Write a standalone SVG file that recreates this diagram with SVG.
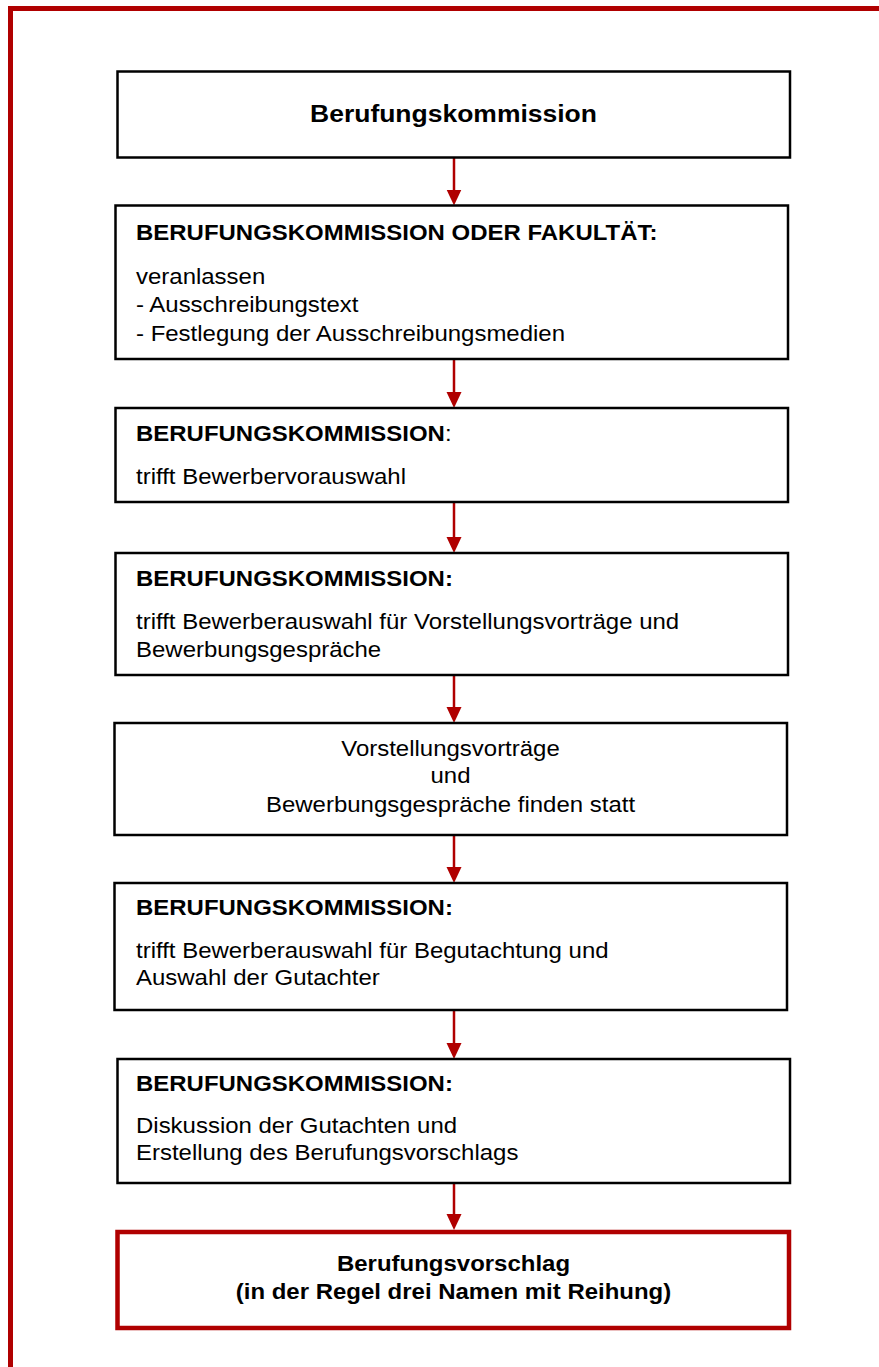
<svg xmlns="http://www.w3.org/2000/svg" width="879" height="1367" viewBox="0 0 879 1367">
<style>
.box{fill:#fff;stroke:#000;stroke-width:2.5}
.rbox{fill:#fff;stroke:#b00000;stroke-width:4.5}
.t{font-family:"Liberation Sans",Arial,sans-serif;font-size:22px;fill:#000}
.b{font-weight:bold}
.c{text-anchor:middle}
.con{stroke:#b00000;stroke-width:2.5;fill:none;marker-end:url(#ah)}
</style>
<defs>
<marker id="ah" markerUnits="userSpaceOnUse" markerWidth="16" markerHeight="16" refX="6" refY="7.5" orient="auto">
<path d="M0,0 L16,7.5 L0,15 Z" fill="#b00000"/>
</marker>
</defs>
<rect width="879" height="1367" fill="#fff"/>
<path id="frame" d="M10.5,1367 V8.5 H879" fill="none" stroke="#b00000" stroke-width="5"/>

<g id="connectors">
<line class="con" x1="454" y1="157" x2="454" y2="195.5"/>
<line class="con" x1="454" y1="359" x2="454" y2="398"/>
<line class="con" x1="454" y1="502" x2="454" y2="543"/>
<line class="con" x1="454" y1="675" x2="454" y2="713"/>
<line class="con" x1="454" y1="835" x2="454" y2="873"/>
<line class="con" x1="454" y1="1010" x2="454" y2="1049"/>
<line class="con" x1="454" y1="1183" x2="454" y2="1220"/>
</g>

<g id="n1">
<rect class="box" x="117.5" y="71.5" width="672.5" height="86"/>
<text class="t b c" style="font-size:24.3px" transform="translate(453.5,0) scale(1.09,1)" y="122">Berufungskommission</text>
</g>

<g id="n2">
<rect class="box" x="115.5" y="205.5" width="672.5" height="153.5"/>
<text class="t b" transform="translate(136,0) scale(1.09,1)" y="240">BERUFUNGSKOMMISSION ODER FAKULTÄT:</text>
<text class="t" transform="translate(136,0) scale(1.09,1)" y="284">veranlassen</text>
<text class="t" transform="translate(136,0) scale(1.09,1)" y="312.5">- Ausschreibungstext</text>
<text class="t" transform="translate(136,0) scale(1.09,1)" y="341">- Festlegung der Ausschreibungsmedien</text>
</g>

<g id="n3">
<rect class="box" x="115.5" y="408" width="672.5" height="94"/>
<text class="t" transform="translate(136,0) scale(1.09,1)" y="441"><tspan class="b">BERUFUNGSKOMMISSION</tspan>:</text>
<text class="t" transform="translate(136,0) scale(1.09,1)" y="484">trifft Bewerbervorauswahl</text>
</g>

<g id="n4">
<rect class="box" x="115.5" y="553" width="672.5" height="122"/>
<text class="t b" transform="translate(136,0) scale(1.09,1)" y="586">BERUFUNGSKOMMISSION:</text>
<text class="t" transform="translate(136,0) scale(1.09,1)" y="629">trifft Bewerberauswahl für Vorstellungsvorträge und</text>
<text class="t" transform="translate(136,0) scale(1.09,1)" y="657">Bewerbungsgespräche</text>
</g>

<g id="n5">
<rect class="box" x="114.5" y="723" width="672.5" height="112"/>
<text class="t c" transform="translate(450.5,0) scale(1.09,1)" y="755.7">Vorstellungsvorträge</text>
<text class="t c" transform="translate(450.5,0) scale(1.09,1)" y="783.5">und</text>
<text class="t c" transform="translate(450.5,0) scale(1.09,1)" y="811.7">Bewerbungsgespräche finden statt</text>
</g>

<g id="n6">
<rect class="box" x="114.5" y="883" width="672.5" height="127"/>
<text class="t b" transform="translate(136,0) scale(1.09,1)" y="915">BERUFUNGSKOMMISSION:</text>
<text class="t" transform="translate(136,0) scale(1.09,1)" y="958">trifft Bewerberauswahl für Begutachtung und</text>
<text class="t" transform="translate(136,0) scale(1.09,1)" y="985.5">Auswahl der Gutachter</text>
</g>

<g id="n7">
<rect class="box" x="117.5" y="1059" width="672.5" height="124"/>
<text class="t b" transform="translate(136,0) scale(1.09,1)" y="1091">BERUFUNGSKOMMISSION:</text>
<text class="t" transform="translate(136,0) scale(1.09,1)" y="1133.3">Diskussion der Gutachten und</text>
<text class="t" transform="translate(136,0) scale(1.09,1)" y="1160">Erstellung des Berufungsvorschlags</text>
</g>

<g id="n8">
<rect class="rbox" x="117.5" y="1232" width="671.5" height="96"/>
<text class="t b c" transform="translate(453.5,0) scale(1.09,1)" y="1271">Berufungsvorschlag</text>
<text class="t b c" transform="translate(453.5,0) scale(1.09,1)" y="1299">(in der Regel drei Namen mit Reihung)</text>
</g>
</svg>
